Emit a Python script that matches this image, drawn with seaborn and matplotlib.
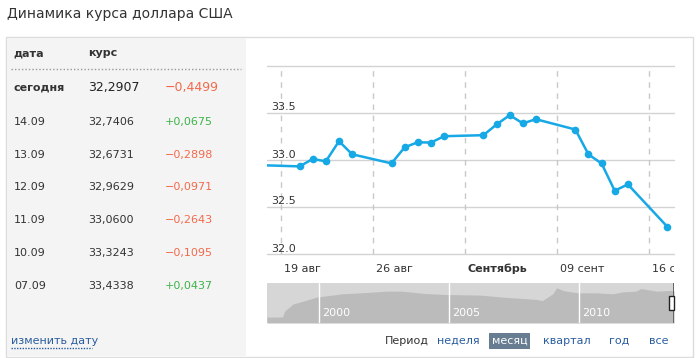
import matplotlib
matplotlib.use("Agg")
import matplotlib.pyplot as plt
import matplotlib.transforms as mtransforms
from matplotlib.patches import Rectangle
from matplotlib.lines import Line2D
import seaborn as sns
import pandas as pd

sns.set_theme(style="white")
plt.rcParams['font.family'] = ['DejaVu Sans']

# ---------------- data ----------------
title = "Динамика курса доллара США"

rate_dates = ["2013-08-17", "2013-08-20", "2013-08-21", "2013-08-22", "2013-08-23",
              "2013-08-24", "2013-08-27", "2013-08-28", "2013-08-29", "2013-08-30",
              "2013-08-31", "2013-09-03", "2013-09-04", "2013-09-05", "2013-09-06",
              "2013-09-07", "2013-09-10", "2013-09-11", "2013-09-12", "2013-09-13",
              "2013-09-14", "2013-09-17"]
rate_values = [32.945, 32.932, 33.011, 32.986, 33.200,
               33.061, 32.964, 33.135, 33.189, 33.185,
               33.253, 33.264, 33.378, 33.477, 33.3901,
               33.4338, 33.3243, 33.0600, 32.9629, 32.6731,
               32.7406, 32.2907]

tick_dates = ["2013-08-19", "2013-08-26", "2013-09-02", "2013-09-09", "2013-09-16"]
tick_labels = ["19 авг", "26 авг", "Сентябрь", "09 сент", "16 сент"]
tick_bold = [False, False, True, False, False]
y_ticks = [32.0, 32.5, 33.0, 33.5, 34.0]
y_labels = ["32.0", "32.5", "33.0", "33.5", ""]

table_header = ["дата", "курс"]
today_label = "сегодня"
today_rate = "32,2907"
today_change = "−0,4499"
table_dates = ["14.09", "13.09", "12.09", "11.09", "10.09", "07.09"]
table_rates = ["32,7406", "32,6731", "32,9629", "33,0600", "33,3243", "33,4338"]
table_changes = ["+0,0675", "−0,2898", "−0,0971", "−0,2643", "−0,1095", "+0,0437"]

nav_years = [1998.0, 1998.6, 1998.68, 1999.0, 1999.4, 1999.9, 2000.9, 2001.6,
             2002.6, 2003.2, 2004.1, 2004.9, 2006.2, 2007.1, 2008.4, 2008.6,
             2009.0, 2009.15, 2009.4, 2009.7, 2010.0, 2010.7, 2011.3, 2011.7,
             2012.2, 2012.4, 2013.0, 2013.5, 2013.67]
nav_values = [6.0, 6.2, 12.2, 19.5, 22.4, 26.5, 29.9, 30.9,
              32.6, 32.6, 30.2, 29.2, 28.6, 26.5, 24.1, 23.0,
              29.9, 36.0, 33.3, 31.9, 30.9, 30.9, 29.9, 31.9,
              32.6, 35.3, 32.6, 33.3, 33.0]
nav_tick_years = [2000, 2005, 2010]

period_label = "Период"
period_options = ["неделя", "месяц", "квартал", "год", "все"]
selected_period = "месяц"
change_date_label = "изменить дату"

# ---------------- styling ----------------
W, H = 698, 358
TXT = "#333333"
RED = "#f26a4b"
GREEN = "#3db348"
LINK = "#2a5d9f"
LINE = "#17a8e6"

def fx(x):
    return x / W

def fy(y):
    return 1 - y / H

fig = plt.figure(figsize=(W / 100, H / 100), dpi=100)
fig.patch.set_facecolor("white")

# panels
fig.add_artist(Rectangle((fx(6), fy(357)), fx(693) - fx(6), fy(37) - fy(357),
                         transform=fig.transFigure, facecolor="white",
                         edgecolor="#dcdcdc", lw=1, zorder=0))
fig.add_artist(Rectangle((fx(7), fy(356)), fx(246) - fx(7), fy(38) - fy(356),
                         transform=fig.transFigure, facecolor="#f4f4f4",
                         edgecolor="none", zorder=0))

fig.text(fx(7), fy(14), title, fontsize=10, color=TXT, va="center", ha="left")

# table
fig.text(fx(13), fy(53), table_header[0], fontsize=8, fontweight="bold", color=TXT, va="center")
fig.text(fx(88), fy(53), table_header[1], fontsize=8, fontweight="bold", color=TXT, va="center")
fig.add_artist(Line2D([fx(11), fx(241)], [fy(69), fy(69)], transform=fig.transFigure,
                      color="#999999", lw=1, linestyle=(0, (1, 1.5))))
fig.text(fx(13), fy(88), today_label, fontsize=8, fontweight="bold", color=TXT, va="center")
fig.text(fx(88), fy(88), today_rate, fontsize=9, color="#222222", va="center")
fig.text(fx(165), fy(88), today_change, fontsize=9, color=RED, va="center")
for i, (d, r, c) in enumerate(zip(table_dates, table_rates, table_changes)):
    yy = 121.7 + i * 32.8
    fig.text(fx(14), fy(yy), d, fontsize=8, color=TXT, va="center")
    fig.text(fx(88), fy(yy), r, fontsize=8, color=TXT, va="center")
    fig.text(fx(165), fy(yy), c, fontsize=8, color=(GREEN if c.startswith("+") else RED), va="center")

fig.text(fx(11), fy(341), change_date_label, fontsize=8, color=LINK, va="center")
fig.add_artist(Line2D([fx(11), fx(92)], [fy(347.5), fy(347.5)], transform=fig.transFigure,
                      color=LINK, lw=1, linestyle=(0, (1, 1))))

# ---------------- main chart ----------------
ax = fig.add_axes([fx(267), fy(254), fx(674) - fx(267), fy(66) - fy(254)])
ax.set_facecolor("white")
for s in ax.spines.values():
    s.set_visible(False)

df = pd.DataFrame({"date": pd.to_datetime(rate_dates) + pd.Timedelta(hours=10),
                   "rate": rate_values})
ticks = pd.to_datetime(tick_dates)

for v in y_ticks:
    ax.axhline(v, color="#d3d3d3", lw=1, zorder=1, clip_on=False)
for t in ticks:
    ax.axvline(t, color="#c8c8c8", lw=1, linestyle=(0, (4, 4)), zorder=1)

sns.lineplot(data=df, x="date", y="rate", ax=ax, color=LINE, lw=1.8,
             marker="o", markersize=5.5, markeredgewidth=0, zorder=3)

ax.set_xlim(pd.Timestamp("2013-08-17 22:25"), pd.Timestamp("2013-09-17 22:20"))
ax.set_ylim(32.0, 34.0)
ax.set_xticks([])
ax.set_yticks([])
ax.set_xlabel("")
ax.set_ylabel("")

ytr = mtransforms.blended_transform_factory(ax.transAxes, ax.transData) + \
    mtransforms.ScaledTranslation(0, 2.5 / 100, fig.dpi_scale_trans)
for v, lab in zip(y_ticks, y_labels):
    if lab:
        ax.text(4 / 407, v, lab, transform=ytr, fontsize=8, color=TXT,
                ha="left", va="baseline")

clip = mtransforms.TransformedBbox(mtransforms.Bbox.from_extents(0, 0, fx(674), 1),
                                   fig.transFigure)
xtr = mtransforms.blended_transform_factory(ax.transData, ax.transAxes) + \
    mtransforms.ScaledTranslation(3 / 100, -15 / 100, fig.dpi_scale_trans)
for t, lab, b in zip(ticks, tick_labels, tick_bold):
    txt = ax.text(t, 0, lab, transform=xtr, fontsize=8, color=TXT, ha="left",
                  va="center", fontweight=("bold" if b else "normal"), clip_on=False)
    txt.set_clip_box(clip)
    txt.set_clip_on(True)

# ---------------- navigator ----------------
nax = fig.add_axes([fx(267), fy(323), fx(674) - fx(267), fy(283) - fy(323)])
nax.set_facecolor("#d6d6d6")
for s in nax.spines.values():
    s.set_visible(False)
nax.fill_between(nav_years, nav_values, 0, color="#bbbbbb", lw=0)
for yr in nav_tick_years:
    nax.axvline(yr, color="white", lw=1)
ntr = mtransforms.blended_transform_factory(nax.transData, nax.transAxes) + \
    mtransforms.ScaledTranslation(3 / 100, 0, fig.dpi_scale_trans)
for yr in nav_tick_years:
    nax.text(yr, 0.25, str(yr), transform=ntr, fontsize=8, color="white",
             ha="left", va="center")
nax.set_xlim(1998.0, 2013.67)
nax.set_ylim(0, 41)
nax.set_xticks([])
nax.set_yticks([])

fig.add_artist(Rectangle((fx(672.5), fy(323)), fx(674) - fx(672.5), fy(283) - fy(323),
                         transform=fig.transFigure, facecolor="#666666", edgecolor="none"))
fig.add_artist(Rectangle((fx(669), fy(310)), fx(674) - fx(669), fy(296) - fy(310),
                         transform=fig.transFigure, facecolor="white", edgecolor="#222222",
                         lw=1))

# ---------------- period buttons ----------------
fig.text(fx(385), fy(341), period_label, fontsize=8, color=TXT, va="center")
btn_x = [437.3, 493.5, 543.3, 608.7, 649.3]
for x, lab in zip(btn_x, period_options):
    if lab == selected_period:
        fig.add_artist(Rectangle((fx(489), fy(348.7)), fx(530) - fx(489), fy(333.3) - fy(348.7),
                                 transform=fig.transFigure, facecolor="#687d92",
                                 edgecolor="none"))
        fig.text(fx(509.5), fy(341), lab, fontsize=8, color="white", va="center", ha="center")
    else:
        fig.text(fx(x), fy(341), lab, fontsize=8, color=LINK, va="center")

fig.savefig("out.png", dpi=100, facecolor="white")
